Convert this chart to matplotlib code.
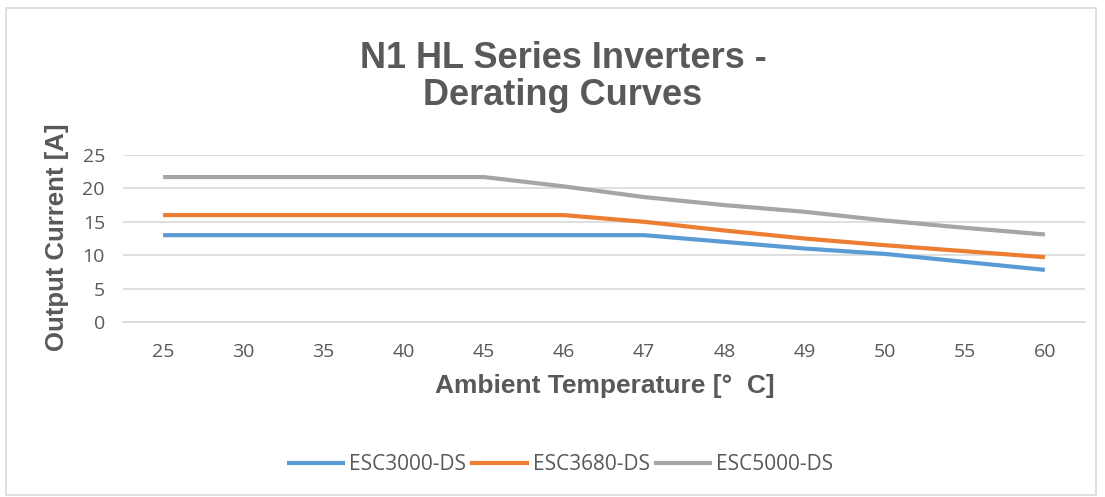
import matplotlib.pyplot as plt
from matplotlib.patches import Rectangle

# dane
temps = ['25', '30', '35', '40', '45', '46', '47', '48', '49', '50', '55', '60']
esc3000 = [13.0, 13.0, 13.0, 13.0, 13.0, 13.0, 13.0, 12.0, 11.0, 10.2, 9.0, 7.8]
esc3680 = [16.0, 16.0, 16.0, 16.0, 16.0, 16.0, 15.0, 13.7, 12.5, 11.5, 10.6, 9.7]
esc5000 = [21.7, 21.7, 21.7, 21.7, 21.7, 20.3, 18.7, 17.5, 16.5, 15.2, 14.1, 13.1]

series_names = ['ESC3000-DS', 'ESC3680-DS', 'ESC5000-DS']
colors = ['#5B9BD5', '#ED7D31', '#A5A5A5']
text_color = '#595959'

fig = plt.figure(figsize=(11.05, 4.97), dpi=100)
fig.patch.set_facecolor('white')

# ramka wokol obszaru wykresu
fig.add_artist(Rectangle((6 / 1105, 0.004), 1090 / 1105, 1 - 8 / 497 - 0.004,
                         transform=fig.transFigure, fill=False,
                         edgecolor='#D9D9D9', linewidth=1.2))

ax = fig.add_axes([123 / 1105, 1 - 322 / 497, 962 / 1105, 167 / 497])
x = range(len(temps))
for vals, name, c in zip([esc3000, esc3680, esc5000], series_names, colors):
    ax.plot(x, vals, color=c, linewidth=3, label=name, solid_capstyle='butt')

ax.set_xlim(-0.5, len(temps) - 0.5)
ax.set_ylim(0, 25)
ax.set_yticks([0, 5, 10, 15, 20, 25])
ax.set_xticks(list(x))
ax.set_xticklabels(temps)
ax.grid(axis='y', color='#D9D9D9', linewidth=1.2)
ax.set_axisbelow(True)
for s in ['top', 'right', 'left']:
    ax.spines[s].set_visible(False)
ax.spines['bottom'].set_color('#D9D9D9')
ax.spines['bottom'].set_linewidth(1.2)
ax.tick_params(axis='both', length=0, labelcolor=text_color, labelsize=14)
ax.tick_params(axis='x', pad=15)
ax.tick_params(axis='y', pad=13)
for lbl in ax.get_xticklabels() + ax.get_yticklabels():
    lbl.set_family('Open Sans')

fig.text(563 / 1105, 1 - 77 / 497, 'N1 HL Series Inverters -\nDerating Curves',
         ha='center', va='center', fontsize=26, fontweight='bold',
         color=text_color, family='Liberation Sans', linespacing=1.05)
fig.text(57 / 1105, 1 - 237 / 497, 'Output Current [A]', rotation=90,
         ha='center', va='center', fontsize=18.5, fontweight='bold',
         color=text_color, family='Liberation Sans')
fig.text(605 / 1105, 1 - 386 / 497, 'Ambient Temperature [°  C]',
         ha='center', va='center', fontsize=19, fontweight='bold',
         color=text_color, family='Liberation Sans')

leg = fig.legend(loc='center', bbox_to_anchor=(560 / 1105, 1 - 465 / 497),
                 ncol=3, frameon=False, handlelength=2.8, handletextpad=0.2,
                 columnspacing=0.2, prop={'family': 'Open Sans', 'size': 15})
for t in leg.get_texts():
    t.set_color(text_color)

plt.savefig('out.png', dpi=100)
